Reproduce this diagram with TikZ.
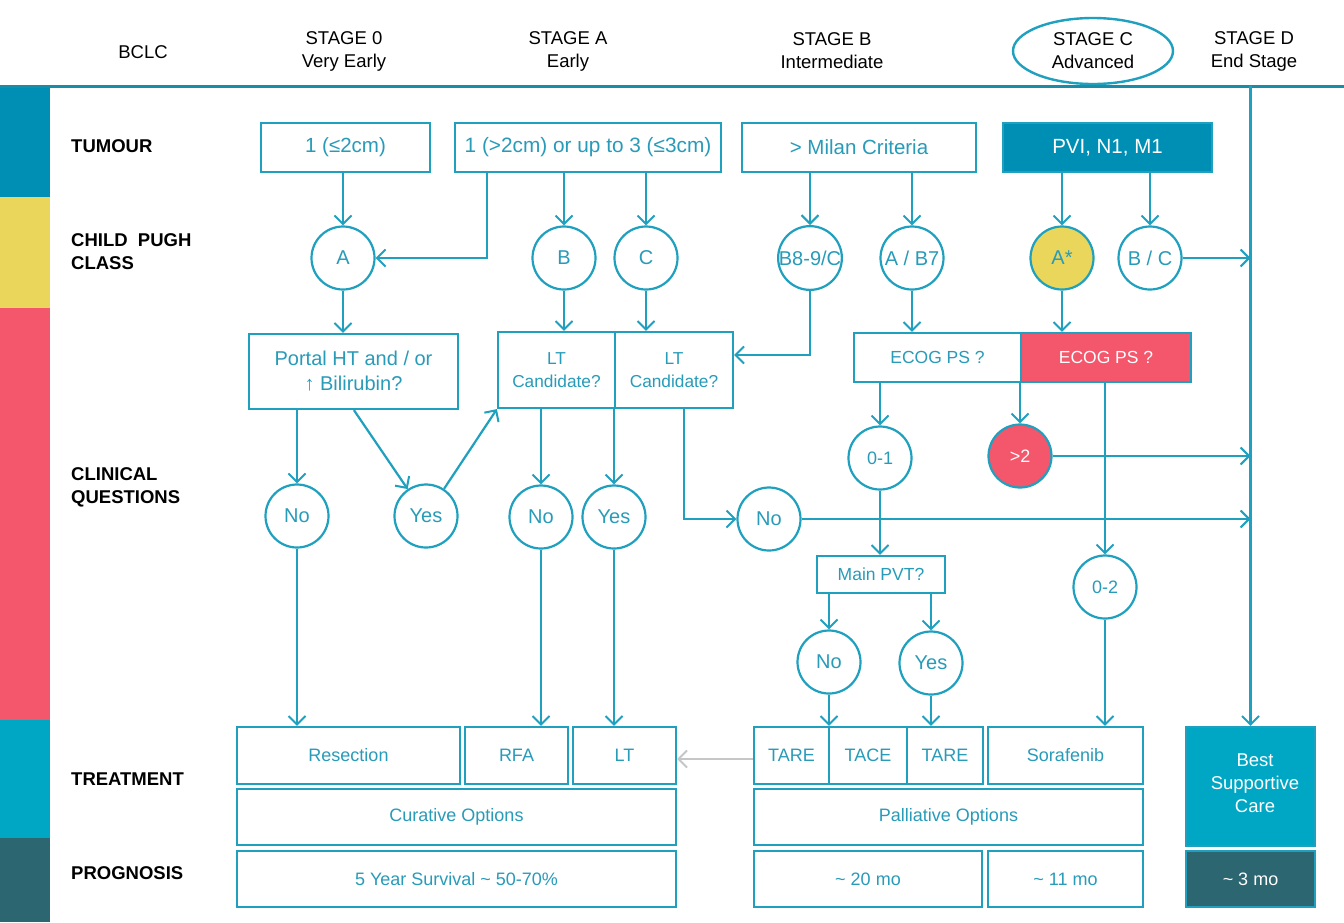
\documentclass[tikz,border=0pt]{standalone}
\usepackage{fontspec}
\setmainfont{Liberation Sans}
\usetikzlibrary{arrows.meta,shapes.geometric}
\definecolor{ln}{RGB}{31,160,190}
\definecolor{tx}{RGB}{40,155,185}
\definecolor{hl}{RGB}{26,140,165}
\definecolor{sbBlue}{RGB}{0,143,180}
\definecolor{sbYellow}{RGB}{234,214,90}
\definecolor{sbRed}{RGB}{244,86,107}
\definecolor{sbCyan}{RGB}{0,167,196}
\definecolor{sbDark}{RGB}{44,102,112}
\begin{document}
\begin{tikzpicture}[x=1pt,y=-1pt,
  box/.style={draw=ln, line width=2.2pt, text=tx, align=center, inner sep=0pt,
    font=\fontsize{18}{21}\selectfont},
  rnd/.style={circle, draw=ln, line width=2.2pt, text=tx, minimum size=63pt,
    inner sep=0pt, font=\fontsize{20}{22}\selectfont},
  arr/.style={draw=ln, line width=2.2pt,
    -{Straight Barb[length=8.5pt,width=17pt,line width=2pt]}},
  lab/.style={anchor=west, align=left, inner sep=0pt, font=\bfseries\fontsize{18.5}{23}\selectfont},
  hdr/.style={align=center, font=\fontsize{18.5}{23}\selectfont}]
\useasboundingbox (0,0) rectangle (1344,922);
\fill[white] (0,0) rectangle (1344,922);

% colour bands on the left
\fill[sbBlue]   (0,86)  rectangle (50,197);
\fill[sbYellow] (0,197) rectangle (50,308);
\fill[sbRed]    (0,308) rectangle (50,720);
\fill[sbCyan]   (0,720) rectangle (50,838);
\fill[sbDark]   (0,838) rectangle (50,922);

% header
\node[hdr] (bclc) at (143,52) {BCLC};
\node[hdr] (s0) at (344,51) {STAGE 0\\Very Early};
\node[hdr] (sa) at (568,51) {STAGE A\\Early};
\node[hdr] (sb) at (832,51) {STAGE B\\Intermediate};
\node[hdr, ellipse, draw=ln, line width=2.4pt, minimum width=160pt, minimum height=66pt, inner sep=0pt] (sc) at (1093,51) {STAGE C\\Advanced};
\node[hdr] (sd) at (1254,51) {STAGE D\\End Stage};
\coordinate (hline) at (0,86);
\draw[hl, line width=3pt] (hline) -- (1344,86);

% row labels
\node[lab] (lTum) at (71,146) {TUMOUR};
\node[lab] (lCp) at (71,252) {CHILD\ \ PUGH\\CLASS};
\node[lab] (lCq) at (71,487) {CLINICAL\\QUESTIONS};
\node[lab] (lTr) at (71,779) {TREATMENT};
\node[lab] (lPr) at (71,873) {PROGNOSIS};

% tumour
\node[box, font=\fontsize{20.5}{23}\selectfont, minimum width=169pt, minimum height=49pt] (t1) at (345.5,147.5) {1 (≤2cm)};
\node[box, font=\fontsize{20.8}{23}\selectfont, minimum width=266pt, minimum height=49pt] (t2) at (588,147.5) {1 (>2cm) or up to 3 (≤3cm)};
\node[box, font=\fontsize{20.5}{23}\selectfont, minimum width=234pt, minimum height=49pt] (t3) at (859,147.5) {> Milan Criteria};
\node[box, font=\fontsize{20.5}{23}\selectfont, fill=sbBlue, text=white, minimum width=209pt, minimum height=49pt] (t4) at (1107.5,147.5) {PVI, N1, M1};

% Child-Pugh class
\node[rnd] (cA) at (343,258) {A};
\node[rnd] (cB) at (564,258) {B};
\node[rnd] (cC) at (646,258) {C};
\node[rnd] (cB89) at (810,258) {B8-9/C};
\node[rnd] (cAB7) at (912,258) {A / B7};
\node[rnd, fill=sbYellow] (cAs) at (1062,258) {A*};
\node[rnd] (cBC) at (1150,258) {B / C};

% clinical questions
\node[box, font=\fontsize{20}{25}\selectfont, minimum width=209pt, minimum height=75pt] (portal) at (353.5,371.5) {Portal HT and / or\\↑ Bilirubin?};
\node[box, font=\fontsize{17.3}{23}\selectfont, minimum width=117pt, minimum height=76pt] (lt1) at (556.5,370) {LT\\Candidate?};
\node[box, font=\fontsize{17.3}{23}\selectfont, minimum width=118pt, minimum height=76pt] (lt2) at (674,370) {LT\\Candidate?};
\node[box, font=\fontsize{17.5}{21}\selectfont, minimum width=167pt, minimum height=49pt] (ec1) at (937.5,357.5) {ECOG PS ?};
\node[box, font=\fontsize{17.5}{21}\selectfont, fill=sbRed, text=white, minimum width=170pt, minimum height=49pt] (ec2) at (1106,357.5) {ECOG PS ?};

\node[rnd] (no1) at (297,516) {No};
\node[rnd] (yes1) at (426,516) {Yes};
\node[rnd] (no2) at (541,517) {No};
\node[rnd] (yes2) at (614,517) {Yes};
\node[rnd] (no3) at (769,519) {No};
\node[rnd, font=\fontsize{18}{21}\selectfont] (z01) at (880,458) {0-1};
\node[rnd, fill=sbRed, text=white, font=\fontsize{18}{21}\selectfont] (gt2) at (1020,456) {>2};
\node[rnd, font=\fontsize{18}{21}\selectfont] (z02) at (1105,587) {0-2};
\node[box, font=\fontsize{17.5}{21}\selectfont, minimum width=128pt, minimum height=37pt] (pvt) at (881,574.5) {Main PVT?};
\node[rnd] (no4) at (829,662) {No};
\node[rnd] (yes4) at (931,663) {Yes};

% treatment
\node[box, minimum width=223pt, minimum height=57pt] (res) at (348.5,755.5) {Resection};
\node[box, minimum width=103pt, minimum height=57pt] (rfa) at (516.5,755.5) {RFA};
\node[box, minimum width=103pt, minimum height=57pt] (ltx) at (624.5,755.5) {LT};
\node[box, minimum width=75pt, minimum height=57pt] (tare1) at (791.5,755.5) {TARE};
\node[box, minimum width=78pt, minimum height=57pt] (tace) at (868,755.5) {TACE};
\node[box, minimum width=76pt, minimum height=57pt] (tare2) at (945,755.5) {TARE};
\node[box, minimum width=155pt, minimum height=57pt] (sora) at (1065.5,755.5) {Sorafenib};
\node[box, fill=sbCyan, text=white, font=\fontsize{18.5}{23}\selectfont, minimum width=129pt, minimum height=119pt] (bsc) at (1250.5,786.5) {};
\node[text=white, align=center, inner sep=0pt, font=\fontsize{18.5}{23}\selectfont] (bscText) at (1255,783) {Best\\Supportive\\Care};
\node[box, minimum width=439pt, minimum height=56pt] (cur) at (456.5,817) {Curative Options};
\node[box, minimum width=389pt, minimum height=56pt] (pal) at (948.5,817) {Palliative Options};

% prognosis
\node[box, minimum width=439pt, minimum height=56pt] (surv) at (456.5,879) {5 Year Survival \textasciitilde\ 50-70\%};
\node[box, minimum width=228pt, minimum height=56pt] (m20) at (868,879) {\textasciitilde\ 20 mo};
\node[box, minimum width=155pt, minimum height=56pt] (m11) at (1065.5,879) {\textasciitilde\ 11 mo};
\node[box, fill=sbDark, text=white, minimum width=129pt, minimum height=56pt] (m3) at (1250.5,879) {\textasciitilde\ 3 mo};

% tumour to Child-Pugh
\draw[arr] (cA|-t1.south) -- (cA);
\draw[arr] ([xshift=33pt]t2.south west) |- (cA);
\draw[arr] (cB|-t2.south) -- (cB);
\draw[arr] (cC|-t2.south) -- (cC);
\draw[arr] (cB89|-t3.south) -- (cB89);
\draw[arr] (cAB7|-t3.south) -- (cAB7);
\draw[arr] (cAs|-t4.south) -- (cAs);
\draw[arr] (cBC|-t4.south) -- (cBC);

% Child-Pugh to questions
\draw[arr] (cA) -- (cA|-portal.north);
\draw[arr] (cB) -- (cB|-lt1.north);
\draw[arr] (cC) -- (cC|-lt2.north);
\draw[arr] (cB89) |- ([yshift=15pt]lt2.east);
\draw[arr] (cAB7) -- (cAB7|-ec1.north);
\draw[arr] (cAs) -- (cAs|-ec2.north);

% stage D column
\draw[arr] (bsc.north|-hline) -- (bsc.north);
\draw[arr] (cBC) -- (cBC-|bsc.north);

% questions to answers
\draw[arr] (no1|-portal.south) -- (no1);
\draw[arr] ([xshift=106pt]portal.south west) -- (yes1);
\draw[arr] (yes1) -- (lt1.south west);
\draw[arr] (no2|-lt1.south) -- (no2);
\draw[arr] (yes2|-lt1.south) -- (yes2);
\draw[arr] ([xshift=70pt]lt2.south west) |- (no3);
\draw[arr] (no3) -- (no3-|bsc.north);
\draw[arr] (z01|-ec1.south) -- (z01);
\draw[arr] (gt2|-ec1.south) -- (gt2);
\draw[arr] (gt2) -- (gt2-|bsc.north);
\draw[arr] (z02|-ec2.south) -- (z02);
\draw[arr] (z01) -- (z01|-pvt.north);
\draw[arr] (no4|-pvt.south) -- (no4);
\draw[arr] (yes4|-pvt.south) -- (yes4);

% answers to treatment
\draw[arr] (no1) -- (no1|-res.north);
\draw[arr] (no2) -- (no2|-rfa.north);
\draw[arr] (yes2) -- (yes2|-ltx.north);
\draw[arr] (no4) -- (no4|-tare1.north);
\draw[arr] (yes4) -- (yes4|-tare2.north);
\draw[arr] (z02) -- (z02|-sora.north);
\draw[draw=gray!45, line width=2pt, -{Straight Barb[length=8.5pt,width=17pt,line width=2pt]}] ([yshift=-3.5pt]tare1.west) -- ([yshift=-3.5pt]ltx.east);
\end{tikzpicture}
\end{document}
